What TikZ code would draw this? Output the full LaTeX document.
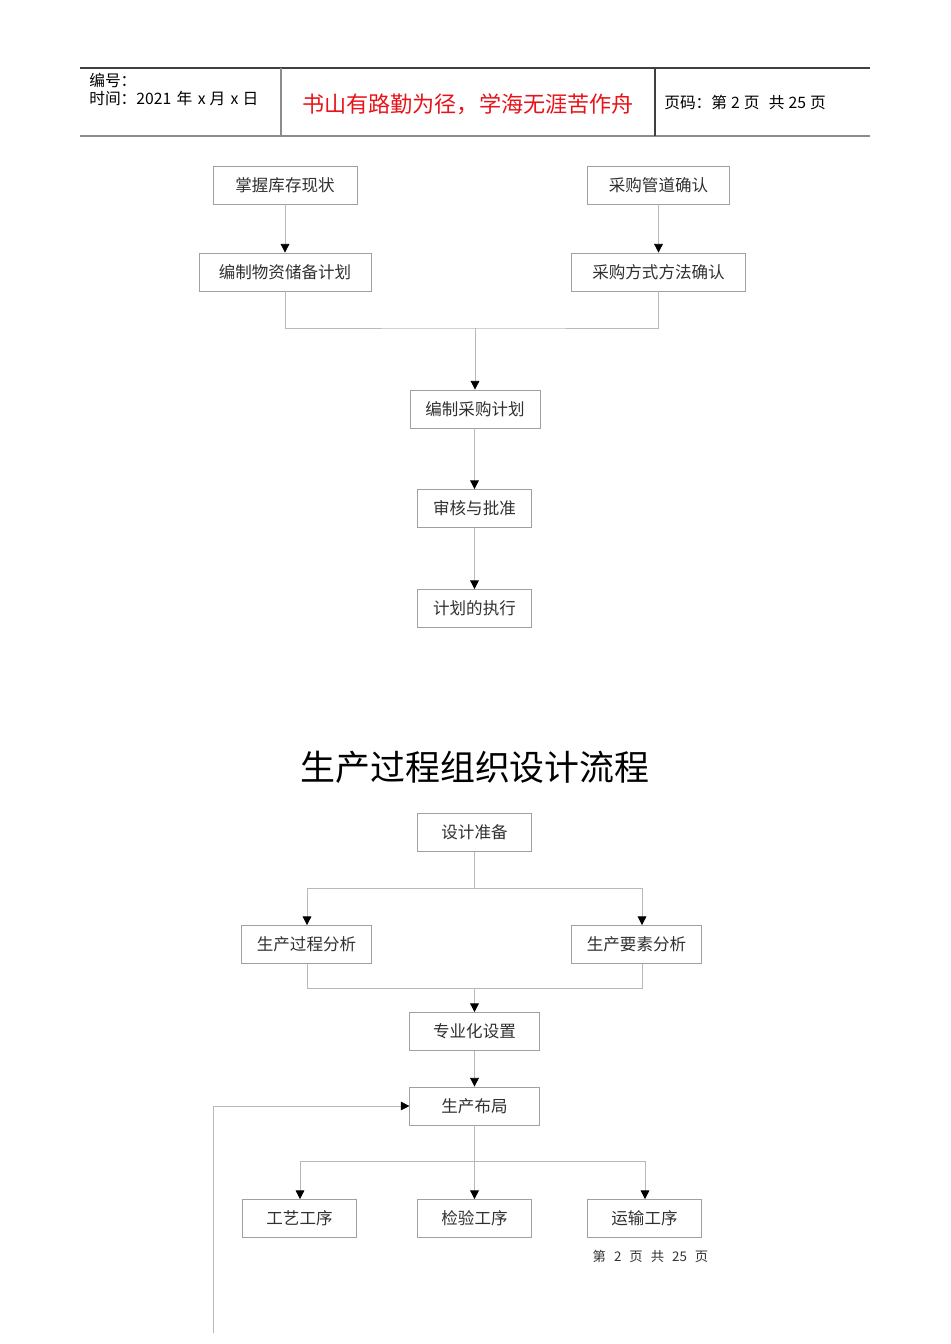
\documentclass[tikz,border=0pt]{standalone}
\usepackage{fontspec}
\setmainfont{Liberation Sans}
\newfontfamily\cjk{Noto Sans CJK SC}
\usetikzlibrary{arrows.meta}
\definecolor{boxgray}{HTML}{A0A0A0}
\definecolor{linegray}{HTML}{B8B8B8}
\definecolor{redtxt}{HTML}{E8131A}
\tikzset{
  stepbox/.style={draw=boxgray, line width=0.6pt, minimum height=28.5pt, inner sep=0pt, font=\cjk\fontsize{12.4}{14}\selectfont\color[HTML]{303030}},
  conn/.style={draw=linegray, line width=0.6pt},
  arr/.style={conn, -{Triangle[length=6.5pt,width=6.5pt,fill=black,color=black]}},
  hdr/.style={font=\cjk\fontsize{11.8}{13}\selectfont, anchor=west, inner sep=0pt},
}
\begin{document}
\begin{tikzpicture}[x=0.75pt,y=-0.75pt]
\useasboundingbox (0,0) rectangle (950,1344);
% header
\draw[line width=0.8pt, color=black!75] (80,68) coordinate (ht1) -- (870,68) coordinate (ht2);
\draw[line width=1.6pt, color=black!45] (80,136) coordinate (hb1) -- (870,136) coordinate (hb2);
\draw[line width=0.8pt, color=black!45] (281,68) coordinate (hv1) -- (281,136) coordinate (hv2);
\draw[line width=0.8pt, color=black!75] (655,68) coordinate (hv3) -- (655,136) coordinate (hv4);
\node[hdr] (h1) at (89,80) {编号：};
\node[hdr] (h2) at (89,99) {时间：2021\hspace{4pt}年\hspace{4pt}x\hspace{3pt}月\hspace{4pt}x\hspace{3pt}日};
\node[font=\cjk\fontsize{16.6}{19}\selectfont, text=redtxt, inner sep=0pt] (h3) at (468,104) {书山有路勤为径，学海无涯苦作舟};
\node[hdr] (h4) at (664,103) {页码：第\hspace{3pt}2\hspace{3pt}页\hspace{7pt}共\hspace{3pt}25\hspace{3pt}页};

% first flow
\node[stepbox, minimum width=108pt] (a1) at (285,185) {掌握库存现状};
\node[stepbox, minimum width=107pt] (a2) at (658.5,185) {采购管道确认};
\node[stepbox, minimum width=129pt] (b1) at (285,272) {编制物资储备计划};
\node[stepbox, minimum width=130pt] (b2) at (658.5,272) {采购方式方法确认};
\node[stepbox, minimum width=97.5pt] (c1) at (475,409) {编制采购计划};
\node[stepbox, minimum width=86pt] (c2) at (474.5,508.5) {审核与批准};
\node[stepbox, minimum width=86pt] (c3) at (474.5,608.5) {计划的执行};
\draw[arr] (a1) -- (b1);
\draw[arr] (a2) -- (b2);
\coordinate (m1) at (475,328);
\draw[conn] (b1.south) |- (m1) -| (b2.south);
\draw[arr] (m1) -- (c1.north);
\draw[arr] (c1.south -| c2.north) -- (c2.north);
\draw[arr] (c2) -- (c3);

% title
\node[font=\cjk\fontsize{26.2}{30}\selectfont, inner sep=0pt] (t) at (475,767) {生产过程组织设计流程};

% second flow
\node[stepbox, minimum width=86pt] (d1) at (474.5,832.5) {设计准备};
\node[stepbox, minimum width=97pt] (e1) at (306.5,944.5) {生产过程分析};
\node[stepbox, minimum width=97pt] (e2) at (636.5,944.5) {生产要素分析};
\node[stepbox, minimum width=97pt] (f1) at (474.5,1031.5) {专业化设置};
\node[stepbox, minimum width=97pt] (g1) at (474.5,1106) {生产布局};
\node[stepbox, minimum width=86pt] (k1) at (299.5,1218.5) {工艺工序};
\node[stepbox, minimum width=86pt] (k2) at (474.5,1218.5) {检验工序};
\node[stepbox, minimum width=86pt] (k3) at (644.5,1218.5) {运输工序};

\coordinate (s1) at (474.5,888);
\coordinate (s1l) at (307,888);
\coordinate (s1r) at (642,888);
\draw[conn] (d1.south) -- (s1);
\draw[conn] (s1l) -- (s1r);
\draw[arr] (s1l) -- (s1l |- e1.north);
\draw[arr] (s1r) -- (s1r |- e2.north);
\coordinate (m2) at (474.5,988);
\draw[conn] (s1l |- e1.south) |- (m2) -| (s1r |- e2.south);
\draw[arr] (m2) -- (f1.north);
\draw[arr] (f1) -- (g1);

\coordinate (fb) at (213,1333);
\draw[arr] (fb) |- (g1.west);

\coordinate (s2) at (474.5,1161);
\coordinate (s2l) at (300,1161);
\coordinate (s2r) at (645,1161);
\draw[conn] (s2l) -- (s2r);
\draw[arr] (g1.south) -- (k2.north);
\draw[arr] (s2l) -- (s2l |- k1.north);
\draw[arr] (s2r) -- (s2r |- k3.north);

\node[font=\cjk\fontsize{10}{11}\selectfont, inner sep=0pt, text=black!80] (ft) at (650.5,1256) {第\hspace{6pt}2\hspace{6pt}页\hspace{6pt}共\hspace{6pt}25\hspace{6pt}页};
\end{tikzpicture}
\end{document}
